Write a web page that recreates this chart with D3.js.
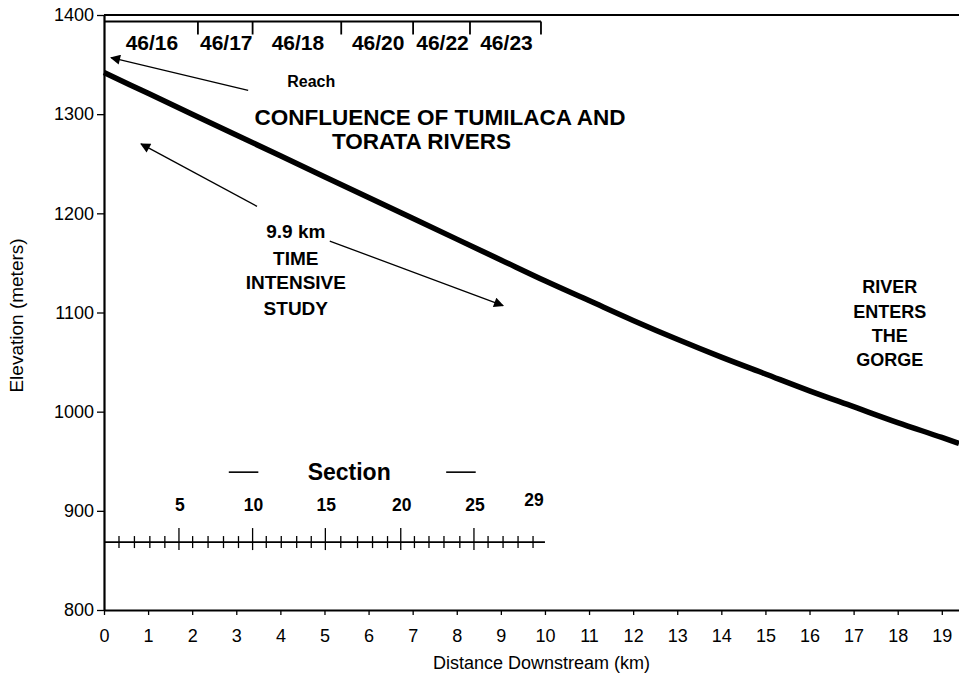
<!DOCTYPE html>
<html>
<head>
<meta charset="utf-8">
<script src="https://cdn.jsdelivr.net/npm/d3@7"></script>
<style>
  html, body { margin: 0; padding: 0; background: #fff; }
  svg { display: block; font-family: "Liberation Sans", Arial, sans-serif; }
</style>
</head>
<body>
<svg id="chart" width="959" height="681"></svg>
<script>
// ---- data ----
const distanceKm = [0, 1, 2, 3, 4, 5, 6, 7, 8, 9, 10, 11, 12, 13, 14, 15, 16, 17, 18, 19, 19.39];
const elevationM = [1342, 1321, 1300, 1279, 1258, 1237, 1216, 1195, 1174, 1153, 1132, 1112, 1092, 1073, 1055, 1038, 1021, 1005, 989, 974, 968];

const xTickValues = [0, 1, 2, 3, 4, 5, 6, 7, 8, 9, 10, 11, 12, 13, 14, 15, 16, 17, 18, 19];
const yTickValues = [800, 900, 1000, 1100, 1200, 1300, 1400];

const reachNames = ["46/16", "46/17", "46/18", "46/20", "46/22", "46/23"];
const reachBoundsKm = [0, 2.13, 3.37, 5.38, 7.01, 8.30, 9.91];

const sectionKm = [0.34, 0.69, 1.04, 1.38, 1.70, 2.01, 2.36, 2.71, 3.05, 3.37,
                   3.68, 4.02, 4.37, 4.70, 5.02, 5.37, 5.75, 6.09, 6.43, 6.73,
                   7.04, 7.37, 7.71, 8.07, 8.39, 8.71, 9.05, 9.39, 9.73];
const sectionLabels = [5, 10, 15, 20, 25, 29];
const sectionMajor = [5, 10, 15, 20, 25];
const sectionLineElev = 868.5;
const sectionEndKm = 10.0;

// ---- scales ----
const svg = d3.select("#chart");
const x = d3.scaleLinear().domain([0, 19.39]).range([104, 959]);
const y = d3.scaleLinear().domain([800, 1400]).range([610, 15]);

const FONT = '"Liberation Sans", Arial, sans-serif';

// arrow marker
const defs = svg.append("defs");
defs.append("marker")
  .attr("id", "ah").attr("viewBox", "0 0 10 10")
  .attr("refX", 9).attr("refY", 5)
  .attr("markerWidth", 15).attr("markerHeight", 10)
  .attr("markerUnits", "userSpaceOnUse")
  .attr("orient", "auto")
  .append("path").attr("d", "M0,0 L10,5 L0,10 Z").attr("fill", "#000");

// ---- axes ----
const xAxis = svg.append("g").attr("transform", `translate(0,${y(800)})`)
  .call(d3.axisBottom(x).tickValues(xTickValues).tickSize(5).tickSizeOuter(0).tickPadding(14).tickFormat(d3.format("d")));
xAxis.select(".domain").attr("stroke-width", 2);
xAxis.selectAll(".tick line").attr("stroke-width", 1.3);
xAxis.selectAll("text").attr("font-size", 18).attr("font-family", FONT).attr("fill", "#000");

const yAxis = svg.append("g").attr("transform", `translate(${x(0)},0)`)
  .call(d3.axisLeft(y).tickValues(yTickValues).tickSize(7).tickSizeOuter(0).tickPadding(3).tickFormat(d3.format("d")));
yAxis.select(".domain").attr("stroke-width", 2.2);
yAxis.selectAll(".tick line").attr("stroke-width", 1.3);
yAxis.selectAll("text").attr("font-size", 18).attr("font-family", FONT).attr("fill", "#000");

// top frame line
svg.append("line")
  .attr("x1", x(0)).attr("x2", x(19.39))
  .attr("y1", y(1400)).attr("y2", y(1400))
  .attr("stroke", "#000").attr("stroke-width", 2.2);

// axis titles
svg.append("text").attr("x", (x(0) + x(19.39)) / 2 + 10).attr("y", 669)
  .attr("text-anchor", "middle").attr("font-size", 18).text("Distance Downstream (km)");
svg.append("text").attr("transform", `translate(23,${y(1097)}) rotate(-90)`)
  .attr("text-anchor", "middle").attr("font-size", 19).text("Elevation (meters)");

// ---- river profile ----
const line = d3.line().x((d, i) => x(distanceKm[i])).y(d => y(d)).curve(d3.curveMonotoneX);
svg.append("path").datum(elevationM)
  .attr("d", line).attr("fill", "none").attr("stroke", "#000")
  .attr("stroke-width", 5.5).attr("stroke-linejoin", "round");

// ---- reach bar ----
const reachY = y(1400) + 6.5;
svg.append("line").attr("x1", x(reachBoundsKm[0])).attr("x2", x(reachBoundsKm[reachBoundsKm.length - 1]))
  .attr("y1", reachY).attr("y2", reachY).attr("stroke", "#000").attr("stroke-width", 1.8);
svg.selectAll(".reachTick").data(reachBoundsKm.slice(1)).enter().append("line")
  .attr("x1", d => x(d)).attr("x2", d => x(d))
  .attr("y1", reachY).attr("y2", reachY + 13)
  .attr("stroke", "#000").attr("stroke-width", 1.8);
svg.selectAll(".reachLabel").data(reachNames).enter().append("text")
  .attr("x", (d, i) => (x(reachBoundsKm[i]) + x(reachBoundsKm[i + 1])) / 2 + 1)
  .attr("y", 50).attr("text-anchor", "middle")
  .attr("font-size", 21).attr("font-weight", "bold").text(d => d);

// ---- annotations ----
function bold(txt, km, elev, size) {
  svg.append("text").attr("x", x(km)).attr("y", y(elev)).attr("dy", "0.35em")
    .attr("text-anchor", "middle").attr("font-size", size).attr("font-weight", "bold").text(txt);
}
function arrow(k1, e1, k2, e2) {
  svg.append("line").attr("x1", x(k1)).attr("y1", y(e1)).attr("x2", x(k2)).attr("y2", y(e2))
    .attr("stroke", "#000").attr("stroke-width", 1.3).attr("marker-end", "url(#ah)");
}

bold("Reach", 4.7, 1333, 16);
arrow(3.27, 1324, 0.16, 1357);

bold("CONFLUENCE OF TUMILACA AND", 7.62, 1297, 22.5);
bold("TORATA RIVERS", 7.2, 1272.5, 22.5);

arrow(3.47, 1207, 0.84, 1270);
arrow(5.12, 1172, 9.05, 1107);

bold("9.9 km", 4.35, 1182, 19);
bold("TIME", 4.35, 1155, 19);
bold("INTENSIVE", 4.35, 1130, 19);
bold("STUDY", 4.35, 1104, 19);

bold("RIVER", 17.82, 1126, 18);
bold("ENTERS", 17.82, 1101, 18);
bold("THE", 17.82, 1077, 18);
bold("GORGE", 17.82, 1052.5, 18);

// ---- section scale ----
const secY = y(sectionLineElev);
svg.append("line").attr("x1", x(0)).attr("x2", x(sectionEndKm))
  .attr("y1", secY).attr("y2", secY).attr("stroke", "#000").attr("stroke-width", 1.8);
svg.selectAll(".secTick").data(sectionKm).enter().append("line")
  .attr("x1", d => x(d)).attr("x2", d => x(d))
  .attr("y1", (d, i) => sectionMajor.includes(i + 1) ? secY - 14 : secY - 6)
  .attr("y2", (d, i) => sectionMajor.includes(i + 1) ? secY + 8 : secY + 6)
  .attr("stroke", "#000").attr("stroke-width", 1.3);
svg.selectAll(".secLabel").data(sectionLabels).enter().append("text")
  .attr("x", d => x(sectionKm[d - 1]) + 1)
  .attr("y", d => d === 29 ? secY - 36 : secY - 31)
  .attr("text-anchor", "middle").attr("font-size", 17.5).attr("font-weight", "bold").text(d => d);

bold("Section", 5.56, 939, 23);
svg.append("line").attr("x1", x(2.83)).attr("x2", x(3.5)).attr("y1", y(939)).attr("y2", y(939))
  .attr("stroke", "#000").attr("stroke-width", 1.6);
svg.append("line").attr("x1", x(7.76)).attr("x2", x(8.43)).attr("y1", y(939)).attr("y2", y(939))
  .attr("stroke", "#000").attr("stroke-width", 1.6);
</script>
</body>
</html>
